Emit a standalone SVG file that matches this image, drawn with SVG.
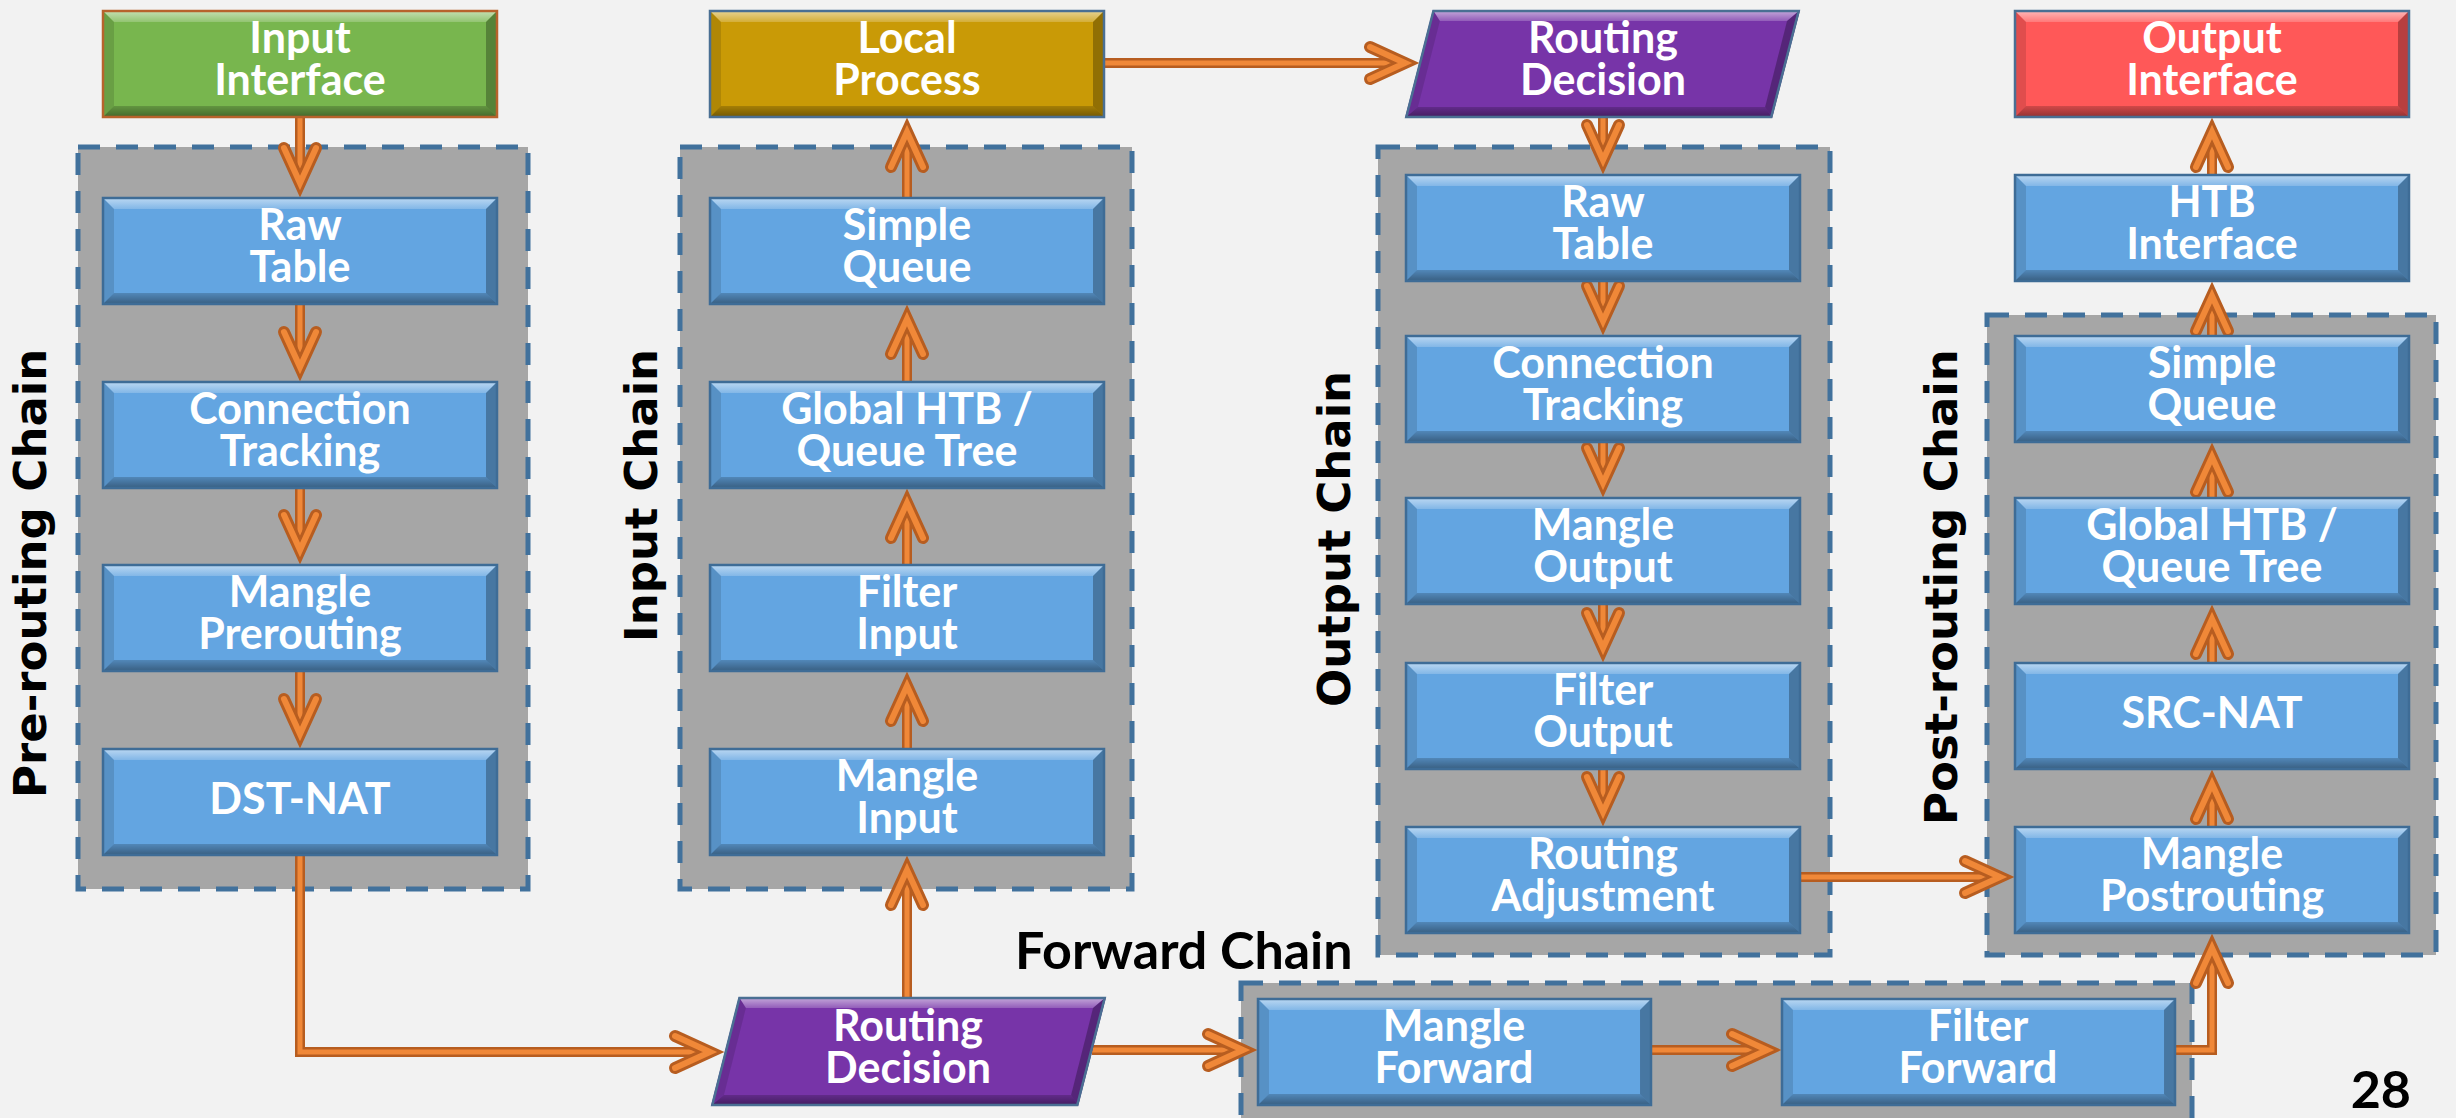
<svg xmlns="http://www.w3.org/2000/svg" xmlns:xlink="http://www.w3.org/1999/xlink" width="2456" height="1118" viewBox="0 0 2456 1118">
  <style>
    .chain { fill: #A6A6A6; stroke: #41719C; stroke-width: 5; stroke-dasharray: 22 16; }
    .lbl { font-family: "Lato", "Liberation Sans", sans-serif; font-weight: 700; font-size: 43px; fill: #FFFFFF; text-anchor: middle; }
    .side { font-family: "DejaVu Sans", "Verdana", sans-serif; font-weight: 700; font-size: 45px; fill: #000000; }
    .big { font-family: "Lato", "Liberation Sans", sans-serif; font-weight: 700; font-size: 52px; fill: #000000; }
    .blue { color: #63A5E1; stroke: #3E6C96; }
    .green { color: #78B64E; stroke: #B7632C; }
    .gold { color: #C99A06; stroke: #4A6F93; }
    .red { color: #FF5858; stroke: #4A6F93; }
    .purple { color: #7734A8; stroke: #4A6F93; }
    .under { fill: none; stroke: #B75D20; stroke-width: 10; }
    .over { fill: none; stroke: #F08838; stroke-width: 5; marker-end: url(#arrow); }
  </style>
  <defs>
    <linearGradient id="gTop" x1="0" y1="0" x2="0" y2="1">
      <stop offset="0" stop-color="#FFFFFF" stop-opacity="0.6"/>
      <stop offset="1" stop-color="#FFFFFF" stop-opacity="0.2"/>
    </linearGradient>
    <linearGradient id="gBot" x1="0" y1="0" x2="0" y2="1">
      <stop offset="0" stop-color="#000000" stop-opacity="0.18"/>
      <stop offset="1" stop-color="#000000" stop-opacity="0.45"/>
    </linearGradient>
    <!-- bevelled rectangle: face takes currentColor, outline takes the stroke of the use -->
    <symbol id="box" viewBox="0 0 396 108" preserveAspectRatio="none" overflow="visible">
      <rect width="396" height="108" fill="currentColor" stroke="none"/>
      <polygon points="0,0 396,0 384,12 12,12" fill="url(#gTop)" stroke="none"/>
      <polygon points="0,108 396,108 384,96 12,96" fill="url(#gBot)" stroke="none"/>
      <polygon points="0,0 12,12 12,96 0,108" fill="#000" fill-opacity="0.12" stroke="none"/>
      <polygon points="396,0 384,12 384,96 396,108" fill="#000" fill-opacity="0.28" stroke="none"/>
      <rect x="1" y="1" width="394" height="106" fill="none" stroke-width="2.5"/>
    </symbol>
    <!-- bevelled parallelogram for the routing decisions -->
    <symbol id="para" viewBox="0 0 396 108" preserveAspectRatio="none" overflow="visible">
      <polygon points="28,0 396,0 368,108 0,108" fill="currentColor" stroke="none"/>
      <polygon points="28,0 396,0 383,11 35,11" fill="url(#gTop)" stroke="none"/>
      <polygon points="0,108 368,108 361,97 13,97" fill="url(#gBot)" stroke="none"/>
      <polygon points="28,0 35,11 13,97 0,108" fill="#000" fill-opacity="0.12" stroke="none"/>
      <polygon points="396,0 368,108 361,97 383,11" fill="#000" fill-opacity="0.28" stroke="none"/>
      <polygon points="28.5,1 394.7,1 367.2,107 1.3,107" fill="none" stroke-width="2.5"/>
    </symbol>
    <!-- open chevron head, tube-shaded like the shafts -->
    <marker id="arrow" markerUnits="userSpaceOnUse" viewBox="-50 -30 80 60" refX="0" refY="0" markerWidth="80" markerHeight="60" orient="auto" overflow="visible">
      <path d="M-35,-16 L0,0 L-35,16" fill="none" stroke="#B75D20" stroke-width="12" stroke-linecap="round" stroke-linejoin="miter"/>
      <path d="M-35,-16 L0,0 L-35,16" fill="none" stroke="#F08838" stroke-width="6" stroke-linecap="round" stroke-linejoin="miter"/>
    </marker>
  </defs>

  <rect width="2456" height="1118" fill="#F2F2F2"/>

  <!-- chain frames -->
  <g id="chain-prerouting">
    <rect class="chain" x="78" y="147" width="450" height="742"/>
    <text class="side" transform="translate(46,798) rotate(-90)">Pre-routing Chain</text>
  </g>
  <g id="chain-input">
    <rect class="chain" x="680" y="147" width="452" height="742"/>
    <text class="side" transform="translate(657,642) rotate(-90)">Input Chain</text>
  </g>
  <g id="chain-output">
    <rect class="chain" x="1378" y="147" width="452" height="808"/>
    <text class="side" transform="translate(1350,707) rotate(-90)">Output Chain</text>
  </g>
  <g id="chain-postrouting">
    <rect class="chain" x="1987" y="315" width="449" height="640"/>
    <text class="side" transform="translate(1957,825) rotate(-90)">Post-routing Chain</text>
  </g>
  <g id="chain-forward">
    <rect class="chain" x="1241" y="983" width="951" height="160"/>
    <text class="big" x="1015" y="969">Forward Chain</text>
  </g>

  <!-- connectors -->
  <g id="connectors">
    <path class="under" d="M300 118 V183"/><path class="over" d="M300 118 V183"/>
    <path class="under" d="M300 305 V367"/><path class="over" d="M300 305 V367"/>
    <path class="under" d="M300 489 V550"/><path class="over" d="M300 489 V550"/>
    <path class="under" d="M300 672 V734"/><path class="over" d="M300 672 V734"/>
    <path class="under" d="M300 856 V1052 H710"/><path class="over" d="M300 856 V1052 H710"/>
    <path class="under" d="M907 997 V870"/><path class="over" d="M907 997 V870"/>
    <path class="under" d="M907 748 V686"/><path class="over" d="M907 748 V686"/>
    <path class="under" d="M907 564 V503"/><path class="over" d="M907 564 V503"/>
    <path class="under" d="M907 381 V319"/><path class="over" d="M907 381 V319"/>
    <path class="under" d="M907 197 V132"/><path class="over" d="M907 197 V132"/>
    <path class="under" d="M1104 63 H1405"/><path class="over" d="M1104 63 H1405"/>
    <path class="under" d="M1603 118 V160"/><path class="over" d="M1603 118 V160"/>
    <path class="under" d="M1603 282 V321"/><path class="over" d="M1603 282 V321"/>
    <path class="under" d="M1603 443 V483"/><path class="over" d="M1603 443 V483"/>
    <path class="under" d="M1603 605 V648"/><path class="over" d="M1603 605 V648"/>
    <path class="under" d="M1603 770 V812"/><path class="over" d="M1603 770 V812"/>
    <path class="under" d="M1801 877 H2000"/><path class="over" d="M1801 877 H2000"/>
    <path class="under" d="M1092 1050 H1243"/><path class="over" d="M1092 1050 H1243"/>
    <path class="under" d="M1651 1050 H1767"/><path class="over" d="M1651 1050 H1767"/>
    <path class="under" d="M2176 1050 H2212 V948"/><path class="over" d="M2176 1050 H2212 V948"/>
    <path class="under" d="M2212 826 V784"/><path class="over" d="M2212 826 V784"/>
    <path class="under" d="M2212 662 V619"/><path class="over" d="M2212 662 V619"/>
    <path class="under" d="M2212 497 V457"/><path class="over" d="M2212 497 V457"/>
    <path class="under" d="M2212 335 V296"/><path class="over" d="M2212 335 V296"/>
    <path class="under" d="M2212 174 V132"/><path class="over" d="M2212 174 V132"/>
  </g>

  <!-- interfaces and local process -->
  <g id="input-interface">
    <use href="#box" class="green" x="102" y="10" width="396" height="108"/>
    <text class="lbl"><tspan x="300" y="53">Input</tspan><tspan x="300" y="95">Interface</tspan></text>
  </g>
  <g id="local-process">
    <use href="#box" class="gold" x="709" y="10" width="396" height="108"/>
    <text class="lbl"><tspan x="907" y="53">Local</tspan><tspan x="907" y="95">Process</tspan></text>
  </g>
  <g id="routing-decision-out">
    <use href="#para" class="purple" x="1405" y="10" width="395" height="108"/>
    <text class="lbl"><tspan x="1603" y="53">Routing</tspan><tspan x="1603" y="95">Decision</tspan></text>
  </g>
  <g id="output-interface">
    <use href="#box" class="red" x="2014" y="10" width="396" height="108"/>
    <text class="lbl"><tspan x="2212" y="53">Output</tspan><tspan x="2212" y="95">Interface</tspan></text>
  </g>

  <!-- pre-routing chain -->
  <g id="pre-raw">
    <use href="#box" class="blue" x="102" y="197" width="396" height="108"/>
    <text class="lbl"><tspan x="300" y="240">Raw</tspan><tspan x="300" y="282">Table</tspan></text>
  </g>
  <g id="pre-conntrack">
    <use href="#box" class="blue" x="102" y="381" width="396" height="108"/>
    <text class="lbl"><tspan x="300" y="424">Connection</tspan><tspan x="300" y="466">Tracking</tspan></text>
  </g>
  <g id="pre-mangle">
    <use href="#box" class="blue" x="102" y="564" width="396" height="108"/>
    <text class="lbl"><tspan x="300" y="607">Mangle</tspan><tspan x="300" y="649">Prerouting</tspan></text>
  </g>
  <g id="pre-dstnat">
    <use href="#box" class="blue" x="102" y="748" width="396" height="108"/>
    <text class="lbl" x="300" y="814">DST-NAT</text>
  </g>

  <!-- input chain -->
  <g id="in-simple-queue">
    <use href="#box" class="blue" x="709" y="197" width="396" height="108"/>
    <text class="lbl"><tspan x="907" y="240">Simple</tspan><tspan x="907" y="282">Queue</tspan></text>
  </g>
  <g id="in-global-htb">
    <use href="#box" class="blue" x="709" y="381" width="396" height="108"/>
    <text class="lbl"><tspan x="907" y="424">Global HTB /</tspan><tspan x="907" y="466">Queue Tree</tspan></text>
  </g>
  <g id="in-filter">
    <use href="#box" class="blue" x="709" y="564" width="396" height="108"/>
    <text class="lbl"><tspan x="907" y="607">Filter</tspan><tspan x="907" y="649">Input</tspan></text>
  </g>
  <g id="in-mangle">
    <use href="#box" class="blue" x="709" y="748" width="396" height="108"/>
    <text class="lbl"><tspan x="907" y="791">Mangle</tspan><tspan x="907" y="833">Input</tspan></text>
  </g>
  <g id="routing-decision-in">
    <use href="#para" class="purple" x="711" y="997" width="395" height="109"/>
    <text class="lbl"><tspan x="908" y="1041">Routing</tspan><tspan x="908" y="1083">Decision</tspan></text>
  </g>

  <!-- output chain -->
  <g id="out-raw">
    <use href="#box" class="blue" x="1405" y="174" width="396" height="108"/>
    <text class="lbl"><tspan x="1603" y="217">Raw</tspan><tspan x="1603" y="259">Table</tspan></text>
  </g>
  <g id="out-conntrack">
    <use href="#box" class="blue" x="1405" y="335" width="396" height="108"/>
    <text class="lbl"><tspan x="1603" y="378">Connection</tspan><tspan x="1603" y="420">Tracking</tspan></text>
  </g>
  <g id="out-mangle">
    <use href="#box" class="blue" x="1405" y="497" width="396" height="108"/>
    <text class="lbl"><tspan x="1603" y="540">Mangle</tspan><tspan x="1603" y="582">Output</tspan></text>
  </g>
  <g id="out-filter">
    <use href="#box" class="blue" x="1405" y="662" width="396" height="108"/>
    <text class="lbl"><tspan x="1603" y="705">Filter</tspan><tspan x="1603" y="747">Output</tspan></text>
  </g>
  <g id="out-routing-adjust">
    <use href="#box" class="blue" x="1405" y="826" width="396" height="108"/>
    <text class="lbl"><tspan x="1603" y="869">Routing</tspan><tspan x="1603" y="911">Adjustment</tspan></text>
  </g>

  <!-- post-routing chain -->
  <g id="post-htb-interface">
    <use href="#box" class="blue" x="2014" y="174" width="396" height="108"/>
    <text class="lbl"><tspan x="2212" y="217">HTB</tspan><tspan x="2212" y="259">Interface</tspan></text>
  </g>
  <g id="post-simple-queue">
    <use href="#box" class="blue" x="2014" y="335" width="396" height="108"/>
    <text class="lbl"><tspan x="2212" y="378">Simple</tspan><tspan x="2212" y="420">Queue</tspan></text>
  </g>
  <g id="post-global-htb">
    <use href="#box" class="blue" x="2014" y="497" width="396" height="108"/>
    <text class="lbl"><tspan x="2212" y="540">Global HTB /</tspan><tspan x="2212" y="582">Queue Tree</tspan></text>
  </g>
  <g id="post-srcnat">
    <use href="#box" class="blue" x="2014" y="662" width="396" height="108"/>
    <text class="lbl" x="2212" y="728">SRC-NAT</text>
  </g>
  <g id="post-mangle">
    <use href="#box" class="blue" x="2014" y="826" width="396" height="108"/>
    <text class="lbl"><tspan x="2212" y="869">Mangle</tspan><tspan x="2212" y="911">Postrouting</tspan></text>
  </g>

  <!-- forward chain -->
  <g id="fwd-mangle">
    <use href="#box" class="blue" x="1257" y="998" width="395" height="108"/>
    <text class="lbl"><tspan x="1454" y="1041">Mangle</tspan><tspan x="1454" y="1083">Forward</tspan></text>
  </g>
  <g id="fwd-filter">
    <use href="#box" class="blue" x="1781" y="998" width="395" height="108"/>
    <text class="lbl"><tspan x="1978" y="1041">Filter</tspan><tspan x="1978" y="1083">Forward</tspan></text>
  </g>

  <text class="big" x="2411" y="1108" text-anchor="end">28</text>
</svg>
